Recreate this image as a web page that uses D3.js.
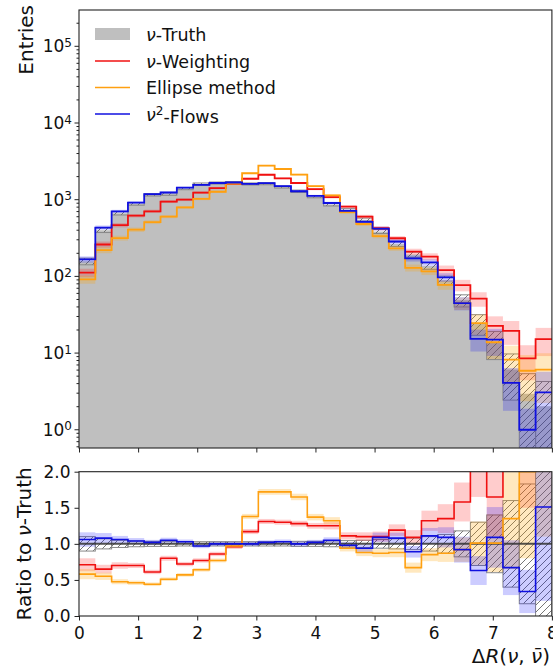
<!DOCTYPE html>
<html>
<head>
<meta charset="utf-8">
<script src="https://cdn.jsdelivr.net/npm/d3@7"></script>
<style>
  body { margin: 0; background: #fff; }
  text { font-family: "DejaVu Sans", sans-serif; fill: #111; }
</style>
</head>
<body>
<div id="chart"></div>
<script>
// bin edges (29 bins over 0..8)
var binEdges = [0, 0.276, 0.552, 0.828, 1.103, 1.379, 1.655, 1.931, 2.207, 2.483,
                2.759, 3.034, 3.310, 3.586, 3.862, 4.138, 4.414, 4.690, 4.966, 5.241,
                5.517, 5.793, 6.069, 6.345, 6.621, 6.897, 7.172, 7.448, 7.724, 8];

// nu-Truth entries per bin
var truth = [155, 395, 655, 870, 1140, 1165, 1370, 1580, 1625, 1650,
             1580, 1590, 1440, 1270, 1080, 850, 720, 540, 380, 260,
             190, 135, 88, 48, 24, 13.5, 6, 2.9, 2];

// ratio to truth for each method
var ratioWeighting = [0.71, 0.65, 0.70, 0.70, 0.61, 0.80, 0.72, 0.77, 0.86, 0.96,
                      1.17, 1.31, 1.30, 1.28, 1.25, 1.25, 1.11, 1.10, 1.10, 1.19,
                      1.09, 1.32, 1.35, 1.58, 2.10, 1.65, 3.20, 2.90, 7.50];
var ratioEllipse = [0.58, 0.55, 0.475, 0.46, 0.44, 0.51, 0.57, 0.64, 0.77, 0.97,
                    1.38, 1.72, 1.72, 1.65, 1.37, 1.32, 0.94, 0.88, 0.87, 0.88,
                    0.67, 0.85, 0.87, 0.92, 1.01, 1.01, 1.35, 2.00, 3.00];
var ratioFlows = [1.06, 1.08, 1.06, 1.04, 1.02, 1.05, 1.03, 0.97, 1.00, 1.00,
                  1.00, 1.02, 1.03, 1.00, 1.02, 1.05, 0.98, 0.94, 1.09, 1.08,
                  0.89, 1.11, 1.09, 0.92, 0.63, 1.09, 0.67, 0.34, 1.51];

// uncertainties (in ratio units)
var errTruth = [0.10, 0.07, 0.05, 0.04, 0.035, 0.035, 0.03, 0.03, 0.03, 0.03,
                0.03, 0.03, 0.03, 0.035, 0.035, 0.04, 0.045, 0.05, 0.06, 0.07,
                0.08, 0.10, 0.13, 0.18, 0.30, 0.40, 0.60, 0.83, 1.10];
var errWeighting = [0.09, 0.06, 0.045, 0.035, 0.03, 0.035, 0.03, 0.03, 0.03, 0.03,
                    0.035, 0.035, 0.035, 0.04, 0.04, 0.05, 0.05, 0.06, 0.07, 0.08,
                    0.10, 0.14, 0.20, 0.27, 0.45, 0.55, 1.10, 1.40, 3.00];
var errEllipse = [0.07, 0.05, 0.035, 0.03, 0.025, 0.025, 0.025, 0.025, 0.027, 0.03,
                  0.035, 0.04, 0.04, 0.045, 0.045, 0.05, 0.045, 0.05, 0.055, 0.065,
                  0.07, 0.09, 0.12, 0.17, 0.30, 0.40, 0.70, 1.20, 1.90];
var errFlows = [0.10, 0.07, 0.05, 0.04, 0.035, 0.035, 0.03, 0.03, 0.03, 0.03,
                0.03, 0.03, 0.03, 0.035, 0.035, 0.04, 0.045, 0.05, 0.065, 0.075,
                0.08, 0.11, 0.14, 0.18, 0.20, 0.42, 0.38, 0.30, 1.30];

var xTicks = [0, 1, 2, 3, 4, 5, 6, 7, 8];
var ratioTicks = [0, 0.5, 1.0, 1.5, 2.0];
var logTicks = [1, 10, 100, 1000, 10000, 100000];

var w = 553, h = 668;
var left = 79, right = 551.9;
var top1 = 10, bot1 = 448;
var top2 = 471.7, bot2 = 616;

var x = d3.scaleLinear().domain([0, 8]).range([left, right]);
var yTop = d3.scaleLog().domain([0.57, 2.93e5]).range([bot1, top1]).clamp(true);
var yRat = d3.scaleLinear().domain([0, 2]).range([bot2, top2]);

var series = [
    {ratio: ratioWeighting, err: errWeighting, color: "#f01010", band: "rgba(255,0,0,0.2)"},
    {ratio: ratioEllipse, err: errEllipse, color: "#ffa010", band: "rgba(255,165,0,0.25)"},
    {ratio: ratioFlows, err: errFlows, color: "#1010e0", band: "rgba(0,0,255,0.2)"}
];

var svg = d3.select("#chart").append("svg")
    .attr("width", w)
    .attr("height", h);

var defs = svg.append("defs");
defs.append("clipPath").attr("id", "clipTop")
    .append("rect").attr("x", left).attr("y", top1).attr("width", right - left).attr("height", bot1 - top1);
defs.append("clipPath").attr("id", "clipRat")
    .append("rect").attr("x", left).attr("y", top2).attr("width", right - left).attr("height", bot2 - top2);
var pat = defs.append("pattern").attr("id", "hatch")
    .attr("patternUnits", "userSpaceOnUse")
    .attr("width", 7).attr("height", 7);
pat.append("path")
    .attr("d", "M-1,1 l2,-2 M0,7 l7,-7 M6,8 l2,-2")
    .attr("stroke", "#666").attr("stroke-width", 0.9);

function safe(v) { return Math.max(v, 0.01); }

function stepLine(vals, y) {
    var pts = binEdges.map(function(e, i) {
        return [x(e), y(vals[Math.min(i, vals.length - 1)])];
    });
    return d3.line().curve(d3.curveStepAfter)(pts);
}

// ---------------- top panel ----------------
var gTop = svg.append("g").attr("clip-path", "url(#clipTop)");

// truth fill
var truthPts = binEdges.map(function(e, i) { return [e, truth[Math.min(i, truth.length - 1)]]; });
gTop.append("path")
    .attr("d", d3.area().curve(d3.curveStepAfter)
        .x(function(d) { return x(d[0]); })
        .y0(bot1)
        .y1(function(d) { return yTop(d[1]); })(truthPts))
    .attr("fill", "#bfbfbf");

// truth hatched uncertainty
gTop.selectAll(".hTop").data(truth).enter().append("rect")
    .attr("x", function(d, i) { return x(binEdges[i]); })
    .attr("width", function(d, i) { return x(binEdges[i + 1]) - x(binEdges[i]); })
    .attr("y", function(d, i) { return yTop(d * (1 + errTruth[i])); })
    .attr("height", function(d, i) { return yTop(safe(d * (1 - errTruth[i]))) - yTop(d * (1 + errTruth[i])); })
    .attr("fill", "url(#hatch)")
    .attr("stroke", "#888").attr("stroke-width", 1);

// method bands
series.forEach(function(s) {
    gTop.append("g").selectAll("rect").data(truth).enter().append("rect")
        .attr("x", function(d, i) { return x(binEdges[i]); })
        .attr("width", function(d, i) { return x(binEdges[i + 1]) - x(binEdges[i]); })
        .attr("y", function(d, i) { return yTop(d * (s.ratio[i] + s.err[i])); })
        .attr("height", function(d, i) {
            return yTop(safe(d * (s.ratio[i] - s.err[i]))) - yTop(d * (s.ratio[i] + s.err[i]));
        })
        .attr("fill", s.band);
});

// method step lines
series.forEach(function(s) {
    var vals = truth.map(function(d, i) { return d * s.ratio[i]; });
    gTop.append("path")
        .attr("d", stepLine(vals, yTop))
        .attr("fill", "none")
        .attr("stroke", s.color)
        .attr("stroke-width", 1.8);
});

// ---------------- ratio panel ----------------
var gRat = svg.append("g").attr("clip-path", "url(#clipRat)");

gRat.selectAll(".hRat").data(errTruth).enter().append("rect")
    .attr("x", function(d, i) { return x(binEdges[i]); })
    .attr("width", function(d, i) { return x(binEdges[i + 1]) - x(binEdges[i]); })
    .attr("y", function(d) { return yRat(1 + d); })
    .attr("height", function(d) { return yRat(1 - d) - yRat(1 + d); })
    .attr("fill", "url(#hatch)")
    .attr("stroke", "#888").attr("stroke-width", 1);

series.forEach(function(s) {
    gRat.append("g").selectAll("rect").data(s.ratio).enter().append("rect")
        .attr("x", function(d, i) { return x(binEdges[i]); })
        .attr("width", function(d, i) { return x(binEdges[i + 1]) - x(binEdges[i]); })
        .attr("y", function(d, i) { return yRat(d + s.err[i]); })
        .attr("height", function(d, i) { return yRat(d - s.err[i]) - yRat(d + s.err[i]); })
        .attr("fill", s.band);
});

gRat.append("line")
    .attr("x1", left).attr("x2", right)
    .attr("y1", yRat(1)).attr("y2", yRat(1))
    .attr("stroke", "#333").attr("stroke-width", 2).attr("opacity", 0.85);

series.forEach(function(s) {
    gRat.append("path")
        .attr("d", stepLine(s.ratio, yRat))
        .attr("fill", "none")
        .attr("stroke", s.color)
        .attr("stroke-width", 1.6);
});

// ---------------- axes ----------------
function styleAxis(g) {
    g.select(".domain").remove();
    g.selectAll(".tick line").attr("stroke", "#222");
    g.selectAll(".tick text").attr("font-size", 17).attr("font-family", "DejaVu Sans").attr("fill", "#111");
}

// top panel x ticks (no labels)
svg.append("g")
    .attr("transform", "translate(0," + bot1 + ")")
    .call(d3.axisBottom(x).tickValues(xTicks).tickSize(4.5).tickFormat(""))
    .call(styleAxis);

// top panel log y axis
var minorLog = [];
for (var dec = -1; dec <= 5; dec++) {
    for (var k = 2; k <= 9; k++) {
        var v = k * Math.pow(10, dec);
        if (v >= 0.57 && v <= 2.93e5) minorLog.push(v);
    }
}
svg.append("g")
    .attr("transform", "translate(" + left + ",0)")
    .call(d3.axisLeft(yTop).tickValues(minorLog).tickSize(2.5).tickFormat(""))
    .call(styleAxis);
var gy = svg.append("g")
    .attr("transform", "translate(" + left + ",0)")
    .call(d3.axisLeft(yTop).tickValues(logTicks).tickSize(4.5).tickFormat(""))
    .call(styleAxis);
gy.selectAll(".tick").each(function(d) {
    var t = d3.select(this).append("text")
        .attr("x", -7).attr("dy", "0.35em")
        .attr("text-anchor", "end")
        .attr("font-size", 17);
    t.append("tspan").text("10");
    t.append("tspan").attr("dy", "-0.45em").attr("font-size", 12).text(Math.round(Math.log10(d)));
});

// ratio axes
svg.append("g")
    .attr("transform", "translate(0," + bot2 + ")")
    .call(d3.axisBottom(x).tickValues(xTicks).tickSize(4.5).tickPadding(6).tickFormat(d3.format("d")))
    .call(styleAxis);
svg.append("g")
    .attr("transform", "translate(" + left + ",0)")
    .call(d3.axisLeft(yRat).tickValues(ratioTicks).tickSize(4.5).tickPadding(4).tickFormat(d3.format(".1f")))
    .call(styleAxis);

// frames
[[top1, bot1], [top2, bot2]].forEach(function(p) {
    svg.append("rect")
        .attr("x", left).attr("y", p[0])
        .attr("width", right - left).attr("height", p[1] - p[0])
        .attr("fill", "none").attr("stroke", "#222").attr("stroke-width", 1.1);
});

// axis labels
svg.append("text")
    .attr("transform", "translate(33,5) rotate(-90)")
    .attr("text-anchor", "end")
    .attr("font-size", 20)
    .text("Entries");

var rl = svg.append("text")
    .attr("transform", "translate(31," + ((top2 + bot2) / 2) + ") rotate(-90)")
    .attr("text-anchor", "middle")
    .attr("font-size", 20);
rl.append("tspan").text("Ratio to ");
rl.append("tspan").attr("font-style", "italic").text("\u03bd");
rl.append("tspan").text("-Truth");

var xl = svg.append("text")
    .attr("x", 550).attr("y", 663)
    .attr("text-anchor", "end")
    .attr("font-size", 20);
xl.append("tspan").text("\u0394");
xl.append("tspan").attr("font-style", "italic").text("R");
xl.append("tspan").text("(");
xl.append("tspan").attr("font-style", "italic").text("\u03bd");
xl.append("tspan").text(", ");
xl.append("tspan").attr("font-style", "italic").text("\u03bd\u0304");
xl.append("tspan").text(")");

// legend
var legend = svg.append("g");
legend.append("rect")
    .attr("x", 95).attr("y", 28).attr("width", 35).attr("height", 12)
    .attr("fill", "#bfbfbf");
var legendRows = [
    {y: 34, parts: [["\u03bd", "italic"], ["-Truth", null]]},
    {y: 61, color: series[0].color, parts: [["\u03bd", "italic"], ["-Weighting", null]]},
    {y: 87.5, color: series[1].color, parts: [["Ellipse method", null]]},
    {y: 114, color: series[2].color, parts: [["\u03bd", "italic"], ["2", "sup"], ["-Flows", null]]}
];
legendRows.forEach(function(r) {
    if (r.color) {
        legend.append("line")
            .attr("x1", 95).attr("x2", 130)
            .attr("y1", r.y).attr("y2", r.y)
            .attr("stroke", r.color).attr("stroke-width", 1.5);
    }
    var t = legend.append("text")
        .attr("x", 146).attr("y", r.y + 6.5)
        .attr("font-size", 17.5);
    r.parts.forEach(function(p) {
        var ts = t.append("tspan").text(p[0]);
        if (p[1] === "italic") ts.attr("font-style", "italic");
        if (p[1] === "sup") ts.attr("font-size", 12).attr("dy", "-0.5em");
        if (p[0] === "-Flows") ts.attr("dy", "0.5em");
    });
});
</script>
</body>
</html>
